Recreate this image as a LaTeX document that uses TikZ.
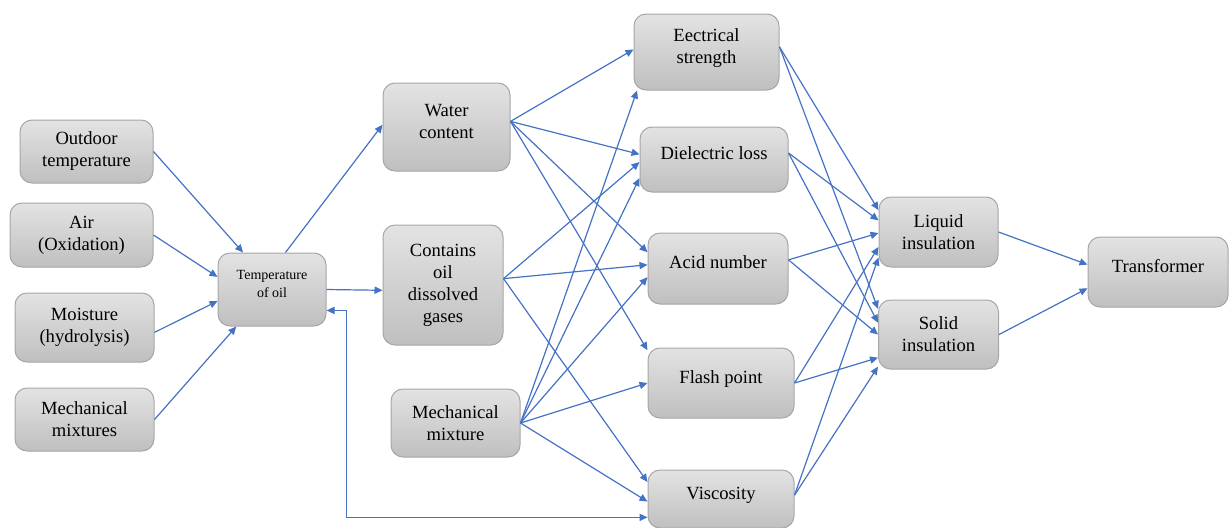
\documentclass[tikz,border=0pt]{standalone}
\usepackage{fontspec}
\setmainfont{Liberation Serif}
\usepackage{tikz}
\usetikzlibrary{arrows.meta}
\usetikzlibrary{positioning}
\definecolor{linkblue}{HTML}{4472C4}
\definecolor{boxedge}{HTML}{A6A6A6}
\tikzstyle{factor}=[rectangle,rounded corners=6pt,draw=boxedge,line width=0.5pt,top color=gray!22,bottom color=gray!50,align=center,inner sep=2pt,font=\fontsize{9.3}{11}\selectfont]
\tikzstyle{raised}=[execute at end node={\rule[-6pt]{0pt}{0pt}}]
\tikzstyle{small}=[font=\fontsize{7}{9}\selectfont]
\tikzstyle{link}=[draw=linkblue,line width=0.6pt]

\begin{document}
\begin{tikzpicture}[x=0.5pt,y=0.5pt,>={Triangle[length=4pt,width=3.6pt]}]
	\useasboundingbox (0,0) rectangle (1229,527);
	% external factors
	\node[factor,minimum width=66.5pt,minimum height=31.5pt] (outdoor) at (86.5,375.5) {Outdoor\\temperature};
	\node[factor,minimum width=71.5pt,minimum height=32pt] (air) at (81.5,292) {Air\\(Oxidation)};
	\node[factor,minimum width=69.5pt,minimum height=34.5pt] (moisture) at (84.5,199.5) {Moisture\\(hydrolysis)};
	\node[factor,minimum width=69.5pt,minimum height=31.5pt] (mechs) at (84.5,107.5) {Mechanical\\mixtures};
	\node[factor,small,raised,minimum width=54pt,minimum height=36.5pt] (tempoil) at (272,237.5) {Temperature\\of oil};
	
	% oil condition
	\node[factor,raised,minimum width=63.5pt,minimum height=44pt] (water) at (446.5,400) {Water\\content};
	\node[factor,minimum width=60pt,minimum height=60pt] (gases) at (443,242) {Contains\\oil\\dissolved\\gases};
	\node[factor,minimum width=64.5pt,minimum height=34pt] (mechmix) at (455.5,104) {Mechanical\\mixture};
	
	% oil properties
	\node[factor,raised,minimum width=72.5pt,minimum height=38pt] (estrength) at (706.5,475) {Eectrical\\strength};
	\node[factor,raised,minimum width=74pt,minimum height=32.5pt] (dloss) at (714,367.5) {Dielectric loss};
	\node[factor,raised,minimum width=70pt,minimum height=35.5pt] (acid) at (718,258.5) {Acid number};
	\node[factor,raised,minimum width=73pt,minimum height=35pt,below=21.5pt of acid,xshift=1.5pt] (flash) {Flash point};
	\node[factor,raised,minimum width=73pt,minimum height=29pt,below=25.5pt of flash] (visc) {Viscosity};
	
	% insulation and transformer
	\node[factor,minimum width=59.5pt,minimum height=35pt] (liquid) at (938.5,295) {Liquid\\insulation};
	\node[factor,minimum width=60pt,minimum height=34.5pt,below=16pt of liquid] (solid) {Solid\\insulation};
	\node[factor,raised,minimum width=70pt,minimum height=35pt] (transformer) at (1158,255) {Transformer};
	
	\draw[link,->] (outdoor.east) -- (tempoil.128);
	\draw[link,->] (air.east) -- (tempoil.167);
	\draw[link,->] (moisture.-4) -- (tempoil.192);
	\draw[link,->] (mechs.east) -- (tempoil.226);
	
	\draw[link,->] (tempoil.70) -- (water.178);
	\draw[link,->] (tempoil.east) -- (gases.185);
	\draw[link,<->] (tempoil.-21) -- ++(10pt,0) |- (visc.194);
	
	\draw[link,->] (water.5) -- (estrength.178);
	\draw[link,->] (water.5) -- (dloss.176);
	\draw[link,->] (water.5) -- (acid.167);
	\draw[link,->] (water.5) -- (flash.156);
	
	\draw[link,->] (gases.6) -- (dloss.182);
	\draw[link,->] (gases.6) -- (acid.177);
	\draw[link,->] (gases.6) -- (visc.167);
	
	\draw[link,->] (mechmix.east) -- (estrength.209);
	\draw[link,->] (mechmix.east) -- (dloss.194);
	\draw[link,->] (mechmix.east) -- (acid.187);
	\draw[link,->] (mechmix.east) -- (flash.west);
	\draw[link,->] (mechmix.east) -- (visc.182);
	
	\draw[link,->] (estrength.4) -- (liquid.160);
	\draw[link,->] (estrength.4) -- (solid.157);
	\draw[link,->] (dloss.5) -- (liquid.169);
	\draw[link,->] (dloss.5) -- (solid.169);
	\draw[link,->] (acid.7) -- (liquid.181);
	\draw[link,->] (acid.7) -- (solid.west);
	\draw[link,->] (flash.east) -- (liquid.194);
	\draw[link,->] (flash.east) -- (solid.201);
	\draw[link,->] (visc.3) -- (liquid.203);
	\draw[link,->] (visc.3) -- (solid.208);
	
	\draw[link,->] (liquid.east) -- (transformer.174);
	\draw[link,->] (solid.east) -- (transformer.193);
\end{tikzpicture}
\end{document}
